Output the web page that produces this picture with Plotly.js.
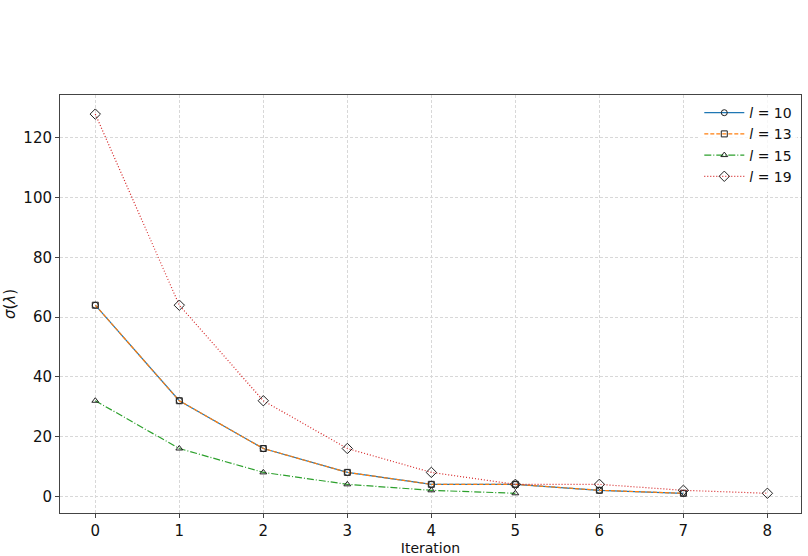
<!DOCTYPE html>
<html>
<head>
<meta charset="utf-8">
<script src="https://cdn.plot.ly/plotly-3.0.1.min.js"></script>
<style>
  body { margin: 0; background: #fff; }
  #plot { width: 808px; height: 556px; }
</style>
</head>
<body>
<div id="plot"></div>
<script>
// values
var iterations = [0, 1, 2, 3, 4, 5, 6, 7, 8];
var seriesNames = ['<i>l</i> = 10', '<i>l</i> = 13', '<i>l</i> = 15', '<i>l</i> = 19'];
var sigma10 = [64, 32, 16, 8, 4, 4, 2, 1];
var sigma13 = [64, 32, 16, 8, 4, 4, 2, 1];
var sigma15 = [32, 16, 8, 4, 2, 1];
var sigma19 = [128, 64, 32, 16, 8, 4, 4, 2, 1];
var yTicks = [0, 20, 40, 60, 80, 100, 120];

// matplotlib-ish default colours and dash patterns
var colors = ['#1f77b4', '#ff7f0e', '#2ca02c', '#d62728'];
var dashes = ['solid', '4px,2px', '7px,2px,1px,2px', '1px,2px'];
var symbols = ['circle-open', 'square-open', 'triangle-up-open', 'diamond-open'];
var allValues = [sigma10, sigma13, sigma15, sigma19];

var traces = [];
for (var i = 0; i < allValues.length; i++) {
  traces.push({
    type: 'scatter',
    mode: 'lines+markers',
    name: seriesNames[i],
    x: iterations.slice(0, allValues[i].length),
    y: allValues[i],
    line: {color: colors[i], width: 1.2, dash: dashes[i]},
    marker: {
      symbol: symbols[i],
      size: i == 3 ? 8 : 6,
      color: '#222',
      line: {color: '#222', width: 1}
    }
  });
}

var axisStyle = {
  showgrid: true,
  gridcolor: '#d8d8d8',
  griddash: '3px,2px',
  gridwidth: 1,
  zeroline: false,
  showline: true,
  mirror: true,
  linecolor: '#444',
  linewidth: 1,
  ticks: 'outside',
  ticklen: 4,
  tickcolor: '#444',
  tickfont: {family: 'DejaVu Sans', size: 15, color: '#111'}
};

var layout = {
  width: 808,
  height: 556,
  margin: {l: 60, r: 7, t: 95, b: 43},
  paper_bgcolor: '#fff',
  plot_bgcolor: '#fff',
  font: {family: 'DejaVu Sans', color: '#111'},
  showlegend: true,
  legend: {
    x: 0.995, y: 0.995, xanchor: 'right', yanchor: 'top',
    bgcolor: 'rgba(255,255,255,0.8)',
    font: {family: 'DejaVu Sans', size: 14, color: '#111'},
    tracegroupgap: 0,
    itemwidth: 40
  },
  xaxis: Object.assign({}, axisStyle, {
    range: [-0.42, 8.4],
    tickvals: iterations,
    title: {text: 'Iteration', font: {size: 14}, standoff: 2}
  }),
  yaxis: Object.assign({}, axisStyle, {
    range: [-5.6, 134.4],
    tickvals: yTicks,
    title: {text: '<i>σ</i>(<i>λ</i>)', font: {size: 15}, standoff: 4}
  })
};

Plotly.newPlot('plot', traces, layout, {displayModeBar: false, staticPlot: true});
</script>
</body>
</html>
